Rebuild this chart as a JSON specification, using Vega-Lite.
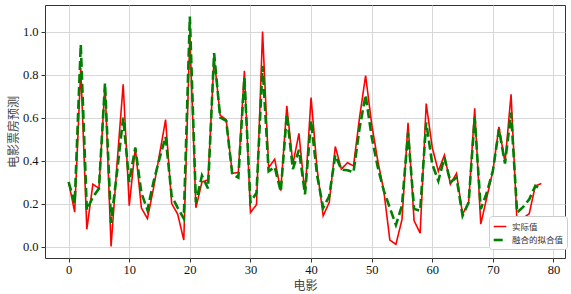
{
  "$schema": "https://vega.github.io/schema/vega-lite/v6.json",
  "width": 520,
  "height": 253,
  "autosize": "none",
  "padding": {"left": 45, "top": 5, "right": 6, "bottom": 36},
  "background": "white",
  "config": {
    "view": {"stroke": "#333", "strokeWidth": 1},
    "axis": {
      "labelFont": "Liberation Serif, Times New Roman, serif",
      "labelFontSize": 12.5,
      "labelColor": "#111",
      "titleFont": "Noto Sans CJK SC",
      "titleFontSize": 12,
      "titleFontWeight": "normal",
      "titleColor": "#444",
      "domain": false,
      "tickColor": "#333",
      "tickSize": 4,
      "grid": true,
      "gridColor": "#d4d4d4",
      "gridWidth": 0.9
    }
  },
  "data": {
    "values": [
      {"x": 0, "a": 0.30, "b": 0.30},
      {"x": 1, "a": 0.16, "b": 0.20},
      {"x": 2, "a": 0.83, "b": 0.94},
      {"x": 3, "a": 0.08, "b": 0.17},
      {"x": 4, "a": 0.29, "b": 0.23},
      {"x": 5, "a": 0.27, "b": 0.27},
      {"x": 6, "a": 0.755, "b": 0.76},
      {"x": 7, "a": 0.00, "b": 0.11},
      {"x": 8, "a": 0.39, "b": 0.35},
      {"x": 9, "a": 0.755, "b": 0.60},
      {"x": 10, "a": 0.19, "b": 0.30},
      {"x": 11, "a": 0.46, "b": 0.46},
      {"x": 12, "a": 0.18, "b": 0.25},
      {"x": 13, "a": 0.13, "b": 0.17},
      {"x": 14, "a": 0.27, "b": 0.30},
      {"x": 15, "a": 0.43, "b": 0.41},
      {"x": 16, "a": 0.59, "b": 0.51},
      {"x": 17, "a": 0.20, "b": 0.235},
      {"x": 18, "a": 0.15, "b": 0.18},
      {"x": 19, "a": 0.03, "b": 0.13},
      {"x": 20, "a": 0.98, "b": 1.07},
      {"x": 21, "a": 0.18, "b": 0.205},
      {"x": 22, "a": 0.30, "b": 0.33},
      {"x": 23, "a": 0.31, "b": 0.27},
      {"x": 24, "a": 0.88, "b": 0.90},
      {"x": 25, "a": 0.61, "b": 0.60},
      {"x": 26, "a": 0.59, "b": 0.585},
      {"x": 27, "a": 0.34, "b": 0.336},
      {"x": 28, "a": 0.345, "b": 0.32},
      {"x": 29, "a": 0.817, "b": 0.786},
      {"x": 30, "a": 0.158, "b": 0.205},
      {"x": 31, "a": 0.195, "b": 0.25},
      {"x": 32, "a": 1.00, "b": 0.84},
      {"x": 33, "a": 0.367, "b": 0.35},
      {"x": 34, "a": 0.406, "b": 0.37},
      {"x": 35, "a": 0.26, "b": 0.256},
      {"x": 36, "a": 0.654, "b": 0.615},
      {"x": 37, "a": 0.383, "b": 0.36},
      {"x": 38, "a": 0.526, "b": 0.45},
      {"x": 39, "a": 0.243, "b": 0.243},
      {"x": 40, "a": 0.693, "b": 0.585},
      {"x": 41, "a": 0.36, "b": 0.33},
      {"x": 42, "a": 0.143, "b": 0.18},
      {"x": 43, "a": 0.205, "b": 0.235},
      {"x": 44, "a": 0.465, "b": 0.425},
      {"x": 45, "a": 0.36, "b": 0.358},
      {"x": 46, "a": 0.39, "b": 0.355},
      {"x": 47, "a": 0.375, "b": 0.345},
      {"x": 48, "a": 0.60, "b": 0.55},
      {"x": 49, "a": 0.795, "b": 0.705},
      {"x": 50, "a": 0.57, "b": 0.51},
      {"x": 51, "a": 0.40, "b": 0.37},
      {"x": 52, "a": 0.26, "b": 0.26},
      {"x": 53, "a": 0.03, "b": 0.18},
      {"x": 54, "a": 0.01, "b": 0.10},
      {"x": 55, "a": 0.125, "b": 0.19},
      {"x": 56, "a": 0.575, "b": 0.53},
      {"x": 57, "a": 0.12, "b": 0.175},
      {"x": 58, "a": 0.062, "b": 0.166},
      {"x": 59, "a": 0.665, "b": 0.577},
      {"x": 60, "a": 0.46, "b": 0.383},
      {"x": 61, "a": 0.35, "b": 0.305},
      {"x": 62, "a": 0.425, "b": 0.414},
      {"x": 63, "a": 0.29, "b": 0.30},
      {"x": 64, "a": 0.34, "b": 0.32},
      {"x": 65, "a": 0.15, "b": 0.143},
      {"x": 66, "a": 0.205, "b": 0.205},
      {"x": 67, "a": 0.643, "b": 0.60},
      {"x": 68, "a": 0.104, "b": 0.174},
      {"x": 69, "a": 0.228, "b": 0.25},
      {"x": 70, "a": 0.352, "b": 0.352},
      {"x": 71, "a": 0.557, "b": 0.546},
      {"x": 72, "a": 0.39, "b": 0.386},
      {"x": 73, "a": 0.708, "b": 0.623},
      {"x": 74, "a": 0.10, "b": 0.158},
      {"x": 75, "a": 0.132, "b": 0.184},
      {"x": 76, "a": 0.153, "b": 0.22},
      {"x": 77, "a": 0.282, "b": 0.282},
      {"x": 78, "a": 0.293, "b": 0.267}
    ]
  },
  "transform": [
    {"fold": ["a", "b"], "as": ["key", "value"]},
    {"lookup": "key", "from": {"data": {"values": [{"key": "a", "series": "实际值"}, {"key": "b", "series": "融合的拟合值"}]}, "key": "key", "fields": ["series"]}}
  ],
  "mark": {"type": "line", "clip": true},
  "encoding": {
    "x": {
      "field": "x",
      "type": "quantitative",
      "title": "电影",
      "scale": {"domain": [-3.9, 81.9], "nice": false, "zero": false},
      "axis": {"values": [0, 10, 20, 30, 40, 50, 60, 70, 80], "labelPadding": 1, "titlePadding": 5}
    },
    "y": {
      "field": "value",
      "type": "quantitative",
      "title": "电影票房预测",
      "scale": {"domain": [-0.0535, 1.1235], "nice": false, "zero": false},
      "axis": {"values": [0, 0.2, 0.4, 0.6, 0.8, 1.0], "format": ".1f", "labelPadding": 3, "titlePadding": 2}
    },
    "color": {
      "field": "series",
      "type": "nominal",
      "scale": {"domain": ["实际值", "融合的拟合值"], "range": ["#ff0000", "#008000"]},
      "legend": {
        "title": null,
        "orient": "none",
        "legendX": 444,
        "legendY": 211,
        "symbolType": "stroke",
        "symbolSize": 160,
        "symbolStrokeWidth": 2,
        "labelFont": "Noto Sans CJK SC",
        "labelFontSize": 8.5,
        "labelColor": "#333",
        "labelOffset": 4,
        "strokeColor": "#cccccc",
        "fillColor": "white",
        "padding": 3,
        "cornerRadius": 3,
        "rowPadding": 1
      }
    },
    "strokeDash": {
      "field": "series",
      "type": "nominal",
      "scale": {"domain": ["实际值", "融合的拟合值"], "range": [[1, 0], [9, 4]]},
      "legend": null
    },
    "strokeWidth": {
      "field": "series",
      "type": "nominal",
      "scale": {"domain": ["实际值", "融合的拟合值"], "range": [1.6, 2.6]},
      "legend": null
    }
  }
}
